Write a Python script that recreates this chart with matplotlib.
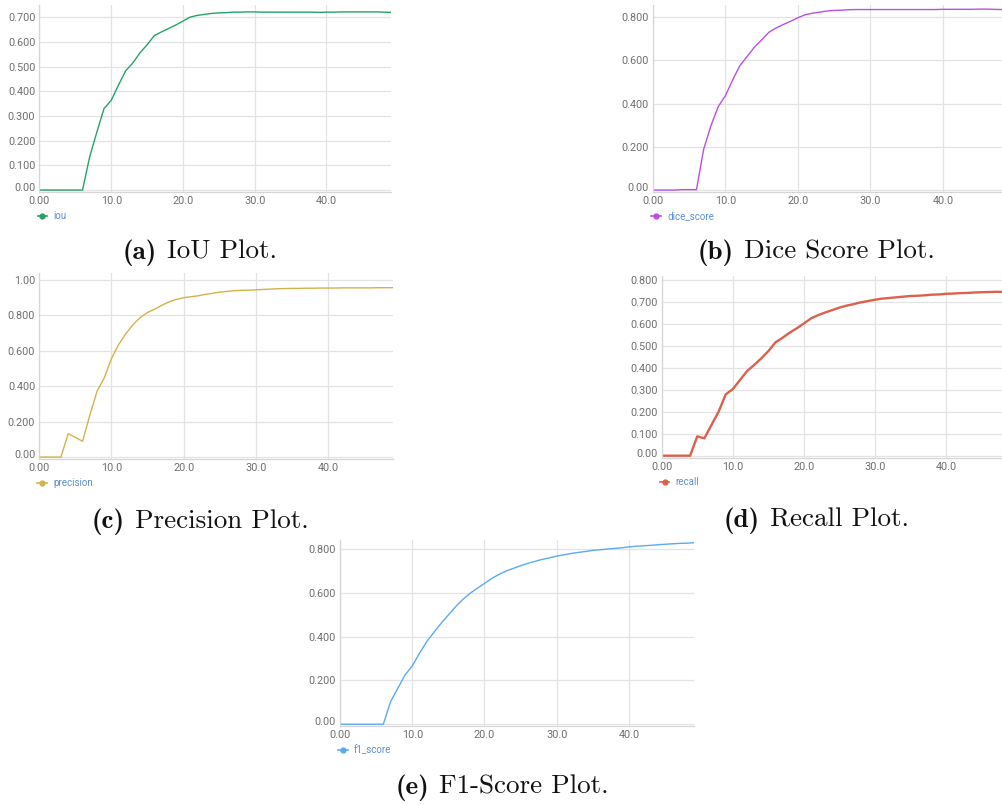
import matplotlib
matplotlib.use("Agg")
import matplotlib.pyplot as plt
import matplotlib.transforms as mtransforms
from matplotlib.lines import Line2D


epochs = list(range(50))

iou = [0.0, 0.0, 0.0, 0.0, 0.0, 0.0, 0.0, 0.135, 0.235, 0.330,
       0.363, 0.424, 0.482, 0.514, 0.555, 0.588, 0.625, 0.640, 0.654, 0.668,
       0.684, 0.700, 0.707, 0.711, 0.715, 0.717, 0.718, 0.720, 0.720, 0.721,
       0.721, 0.720, 0.720, 0.720, 0.720, 0.720, 0.720, 0.720, 0.720, 0.719,
       0.720, 0.720, 0.721, 0.721, 0.721, 0.721, 0.721, 0.721, 0.720, 0.719]

dice_score = [0.0, 0.0, 0.0, 0.0, 0.002, 0.002, 0.002, 0.190, 0.298, 0.386,
              0.437, 0.510, 0.576, 0.618, 0.661, 0.695, 0.730, 0.750, 0.766, 0.781,
              0.797, 0.811, 0.818, 0.823, 0.828, 0.831, 0.832, 0.834, 0.835, 0.835,
              0.835, 0.835, 0.835, 0.835, 0.835, 0.835, 0.835, 0.835, 0.835, 0.835,
              0.836, 0.836, 0.836, 0.836, 0.836, 0.837, 0.837, 0.836, 0.835, 0.835]

precision = [0.0, 0.0, 0.0, 0.0, 0.132, 0.111, 0.089, 0.236, 0.372, 0.447,
             0.557, 0.636, 0.698, 0.749, 0.789, 0.817, 0.836, 0.858, 0.877, 0.891,
             0.900, 0.906, 0.911, 0.919, 0.925, 0.932, 0.936, 0.940, 0.942, 0.943,
             0.945, 0.947, 0.949, 0.951, 0.952, 0.953, 0.953, 0.954, 0.954, 0.955,
             0.955, 0.955, 0.956, 0.956, 0.956, 0.956, 0.956, 0.957, 0.957, 0.957]

recall = [0.0, 0.0, 0.0, 0.0, 0.0, 0.088, 0.079, 0.140, 0.200, 0.279,
          0.303, 0.344, 0.385, 0.413, 0.443, 0.476, 0.516, 0.537, 0.560, 0.580,
          0.602, 0.625, 0.640, 0.652, 0.663, 0.674, 0.683, 0.690, 0.698, 0.704,
          0.710, 0.715, 0.718, 0.721, 0.724, 0.727, 0.728, 0.730, 0.733, 0.734,
          0.737, 0.738, 0.740, 0.741, 0.743, 0.744, 0.745, 0.746, 0.746, 0.746]

f1_score = [0.0, 0.0, 0.0, 0.0, 0.0, 0.0, 0.0, 0.103, 0.164, 0.225,
            0.266, 0.324, 0.377, 0.420, 0.461, 0.499, 0.537, 0.570, 0.598, 0.621,
            0.643, 0.666, 0.684, 0.700, 0.712, 0.724, 0.735, 0.744, 0.753, 0.760,
            0.768, 0.774, 0.780, 0.785, 0.789, 0.794, 0.797, 0.800, 0.803, 0.806,
            0.810, 0.813, 0.815, 0.817, 0.820, 0.822, 0.824, 0.826, 0.827, 0.829]

x_ticks = [0, 10, 20, 30, 40]
x_tick_labels = ["0.00", "10.0", "20.0", "30.0", "40.0"]

yticks_tenths = [0.0, 0.1, 0.2, 0.3, 0.4, 0.5, 0.6, 0.7]
ylabels_tenths = ["0.00", "0.100", "0.200", "0.300", "0.400", "0.500", "0.600", "0.700"]
yticks_fifths = [0.0, 0.2, 0.4, 0.6, 0.8]
ylabels_fifths = ["0.00", "0.200", "0.400", "0.600", "0.800"]
yticks_prec = [0.0, 0.2, 0.4, 0.6, 0.8, 1.0]
ylabels_prec = ["0.00", "0.200", "0.400", "0.600", "0.800", "1.00"]
yticks_recall = [0.0, 0.1, 0.2, 0.3, 0.4, 0.5, 0.6, 0.7, 0.8]
ylabels_recall = ["0.00", "0.100", "0.200", "0.300", "0.400", "0.500", "0.600", "0.700", "0.800"]

captions = ["(a)", "(b)", "(c)", "(d)", "(e)"]
caption_texts = ["IoU Plot.", "Dice Score Plot.", "Precision Plot.", "Recall Plot.", "F1-Score Plot."]

W, H = 1003, 805
TICK_COLOR = "#707070"
GRID_COLOR = "#e3e3e3"
LEGEND_TEXT = "#5b8fd0"
CAPTION_SIZE = 19.5

fig = plt.figure(figsize=(W / 100, H / 100), dpi=100)
renderer = fig.canvas.get_renderer()


def px_axes(left, top, right, bottom):
    return fig.add_axes([left / W, 1 - bottom / H, (right - left) / W, (bottom - top) / H])


def style_panel(ax, xmax, ylim, yticks, ylabels):
    ax.set_xlim(0, xmax)
    ax.set_ylim(*ylim)
    ax.set_xticks(x_ticks)
    ax.set_xticklabels(x_tick_labels)
    ax.set_yticks(yticks)
    ax.set_yticklabels(ylabels)
    ax.grid(True, color=GRID_COLOR, linewidth=0.9)
    ax.set_axisbelow(True)
    for side in ["top", "right"]:
        ax.spines[side].set_visible(False)
    for side in ["left", "bottom"]:
        ax.spines[side].set_color("#d6d6d6")
        ax.spines[side].set_linewidth(0.9)
    ax.tick_params(length=0, pad=3, labelsize=7.8, labelcolor=TICK_COLOR)
    for lab in ax.get_xticklabels() + ax.get_yticklabels():
        lab.set_family("Roboto")
    # the zero label sits a little above its grid line
    first = ax.get_yticklabels()[0]
    first.set_transform(first.get_transform()
                        + mtransforms.ScaledTranslation(0, 3 / 100, fig.dpi_scale_trans))


def add_legend(ax, color, label):
    pos = ax.get_position()
    x0 = (pos.x0 * W - 2) / W
    y0 = (pos.y0 * H - 24) / H
    handle = Line2D([], [], color=color, marker="o", markersize=3.5, linewidth=1.2)
    fig.legend([handle], [label], loc="center left", bbox_to_anchor=(x0, y0),
               frameon=False, handlelength=1.0, handletextpad=0.65,
               borderpad=0, borderaxespad=0, labelcolor=LEGEND_TEXT,
               prop={"family": "Roboto", "size": 7})


def add_caption(tag, text, cx, cy):
    fs_px = CAPTION_SIZE * 100 / 72
    baseline = 1 - (cy + 0.25 * fs_px) / H
    t1 = fig.text(0, baseline, tag, family="cmb10", fontsize=CAPTION_SIZE,
                  ha="left", va="baseline", color="#111111")
    t2 = fig.text(0, baseline, text, family="cmr10", fontsize=CAPTION_SIZE,
                  ha="left", va="baseline", color="#111111")
    w1 = t1.get_window_extent(renderer).width
    w2 = t2.get_window_extent(renderer).width
    gap = 0.38 * fs_px
    start = cx - (w1 + gap + w2) / 2
    t1.set_x(start / W)
    t2.set_x((start + w1 + gap) / W)


panels = [
    # (series, color, name, lw, axes px box, xmax, ylim, yticks, ylabels, caption center)
    (iou, "#26a267", "iou", 1.0, (39.5, 5, 391, 192), 49.0, (-0.008, 0.749),
     yticks_tenths, ylabels_tenths, (200, 252)),
    (dice_score, "#bb4fe3", "dice_score", 1.0, (653, 5, 1003, 192), 48.3, (-0.009, 0.856),
     yticks_fifths, ylabels_fifths, (816, 252)),
    (precision, "#d4b24a", "precision", 1.0, (39.3, 273, 393, 459), 49.0, (-0.011, 1.04),
     yticks_prec, ylabels_prec, (200, 521)),
    (recall, "#dc604c", "recall", 1.7, (661.7, 276, 1003, 458), 48.0, (-0.0105, 0.818),
     yticks_recall, ylabels_recall, (816, 520)),
    (f1_score, "#5aabf4", "f1_score", 1.0, (340, 540, 694, 726), 49.0, (-0.008, 0.8415),
     yticks_fifths, ylabels_fifths, (502, 787)),
]

for i, (series, color, name, lw, box, xmax, ylim, yticks, ylabels, cap) in enumerate(panels):
    ax = px_axes(*box)
    ax.plot(epochs, series, color=color, linewidth=lw)
    style_panel(ax, xmax, ylim, yticks, ylabels)
    add_legend(ax, color, name)
    add_caption(captions[i], caption_texts[i], cap[0], cap[1])

fig.savefig("out.png", dpi=100)
